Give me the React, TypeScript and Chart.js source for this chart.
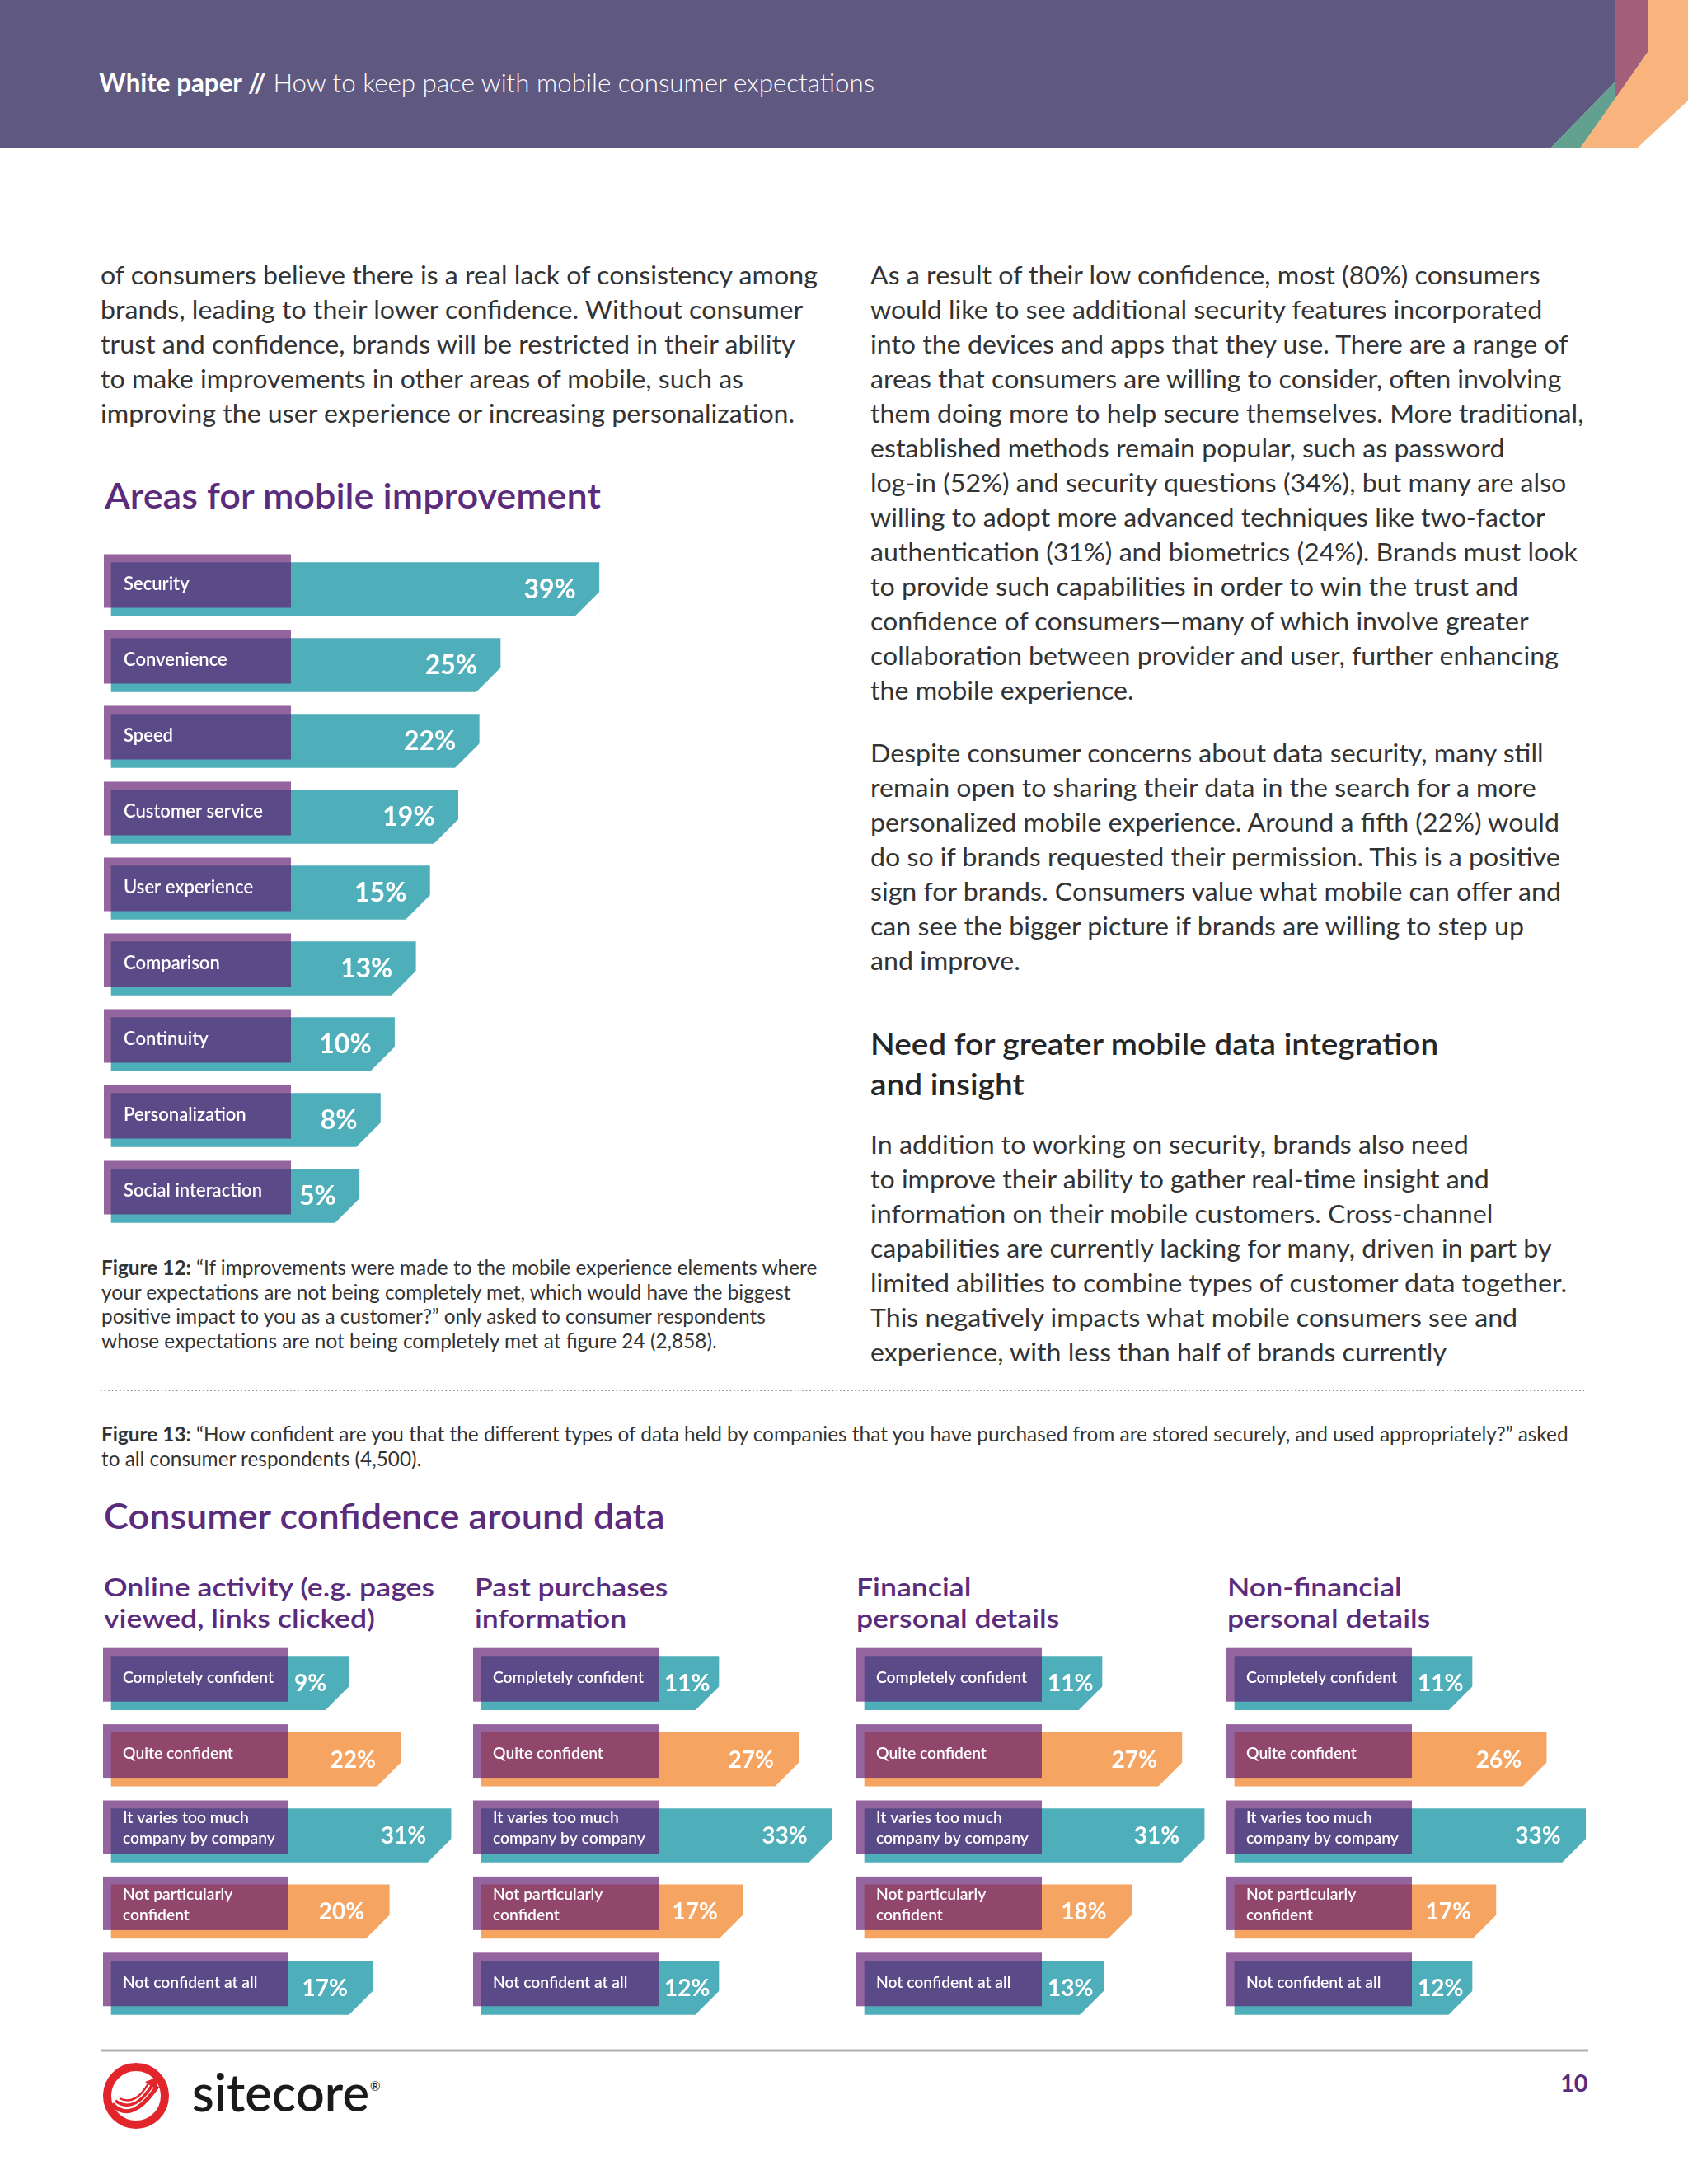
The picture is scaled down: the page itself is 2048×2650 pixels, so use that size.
import React, { useEffect, useRef } from "react";
import { Chart, registerables } from "chart.js";

Chart.register(...registerables);

// ---------------- data ----------------
const improvementCategories = [
  "Security",
  "Convenience",
  "Speed",
  "Customer service",
  "User experience",
  "Comparison",
  "Continuity",
  "Personalization",
  "Social interaction",
];
const improvementValues = [39, 25, 22, 19, 15, 13, 10, 8, 5];

const confidenceCategories = [
  ["Completely confident"],
  ["Quite confident"],
  ["It varies too much", "company by company"],
  ["Not particularly", "confident"],
  ["Not confident at all"],
];
const onlineActivityValues = [9, 22, 31, 20, 17];
const pastPurchasesValues = [11, 27, 33, 17, 12];
const financialValues = [11, 27, 31, 18, 13];
const nonFinancialValues = [11, 26, 33, 17, 12];

const confidenceTitles = [
  ["Online activity (e.g. pages", "viewed, links clicked)"],
  ["Past purchases", "information"],
  ["Financial", "personal details"],
  ["Non-financial", "personal details"],
];

// ---------------- page text ----------------
const headerBold = "White paper //";
const headerLight = " How to keep pace with mobile consumer expectations";

const leftLines = [
  "of consumers believe there is a real lack of consistency among",
  "brands, leading to their lower confidence. Without consumer",
  "trust and confidence, brands will be restricted in their ability",
  "to make improvements in other areas of mobile, such as",
  "improving the user experience or increasing personalization.",
];
const rightLines1 = [
  "As a result of their low confidence, most (80%) consumers",
  "would like to see additional security features incorporated",
  "into the devices and apps that they use. There are a range of",
  "areas that consumers are willing to consider, often involving",
  "them doing more to help secure themselves. More traditional,",
  "established methods remain popular, such as password",
  "log-in (52%) and security questions (34%), but many are also",
  "willing to adopt more advanced techniques like two-factor",
  "authentication (31%) and biometrics (24%). Brands must look",
  "to provide such capabilities in order to win the trust and",
  "confidence of consumers\u2014many of which involve greater",
  "collaboration between provider and user, further enhancing",
  "the mobile experience.",
];
const rightLines2 = [
  "Despite consumer concerns about data security, many still",
  "remain open to sharing their data in the search for a more",
  "personalized mobile experience. Around a fifth (22%) would",
  "do so if brands requested their permission. This is a positive",
  "sign for brands. Consumers value what mobile can offer and",
  "can see the bigger picture if brands are willing to step up",
  "and improve.",
];
const needHeading = ["Need for greater mobile data integration", "and insight"];
const rightLines3 = [
  "In addition to working on security, brands also need",
  "to improve their ability to gather real-time insight and",
  "information on their mobile customers. Cross-channel",
  "capabilities are currently lacking for many, driven in part by",
  "limited abilities to combine types of customer data together.",
  "This negatively impacts what mobile consumers see and",
  "experience, with less than half of brands currently",
];
const fig12Lead = "Figure 12:";
const fig12Lines = [
  " \u201CIf improvements were made to the mobile experience elements where",
  "your expectations are not being completely met, which would have the biggest",
  "positive impact to you as a customer?\u201D only asked to consumer respondents",
  "whose expectations are not being completely met at figure 24 (2,858).",
];
const fig13Lead = "Figure 13:";
const fig13Lines = [
  " \u201CHow confident are you that the different types of data held by companies that you have purchased from are stored securely, and used appropriately?\u201D asked",
  "to all consumer respondents (4,500).",
];

// ---------------- styles ----------------
const FONT = "Lato, 'Open Sans', 'DejaVu Sans', sans-serif";
const TEAL = "#4EAEB9";
const ORANGE = "#F5A461";
const OVERLAY = "rgba(98, 27, 113, 0.68)";
const PURPLE = "#5B2B7C";
const BODY = "#333333";

let measureCtx: CanvasRenderingContext2D | null = null;
function textWidth(t: string, weight: number, size: number): number {
  if (!measureCtx) measureCtx = document.createElement("canvas").getContext("2d");
  if (!measureCtx) return t.length * size * 0.5;
  measureCtx.font = `${weight} ${size}px ${FONT}`;
  return measureCtx.measureText(t).width;
}

type BarProps = {
  labels: (string | string[])[];
  values: number[];
  colors: string[];
  left: number;
  top: number;
  width: number;
  height: number;
  xMin: number;
  xMax: number;
  base: number;
  boxDx: number;
  boxWidth: number;
  labelSize: number;
  lineGap: number;
  valueSize: number;
  valueGap: number;
  chamfer: number;
  minBarLength?: number;
};

function OffsetBarChart(p: BarProps) {
  const ref = useRef<HTMLCanvasElement>(null);
  useEffect(() => {
    const canvas = ref.current;
    if (!canvas) return;
    const decor = {
      id: "decor",
      afterDatasetsDraw(chart: any) {
        const ctx: CanvasRenderingContext2D = chart.ctx;
        const meta = chart.getDatasetMeta(0);
        const labels = chart.data.labels as (string | string[])[];
        const data = chart.data.datasets[0].data as number[];
        meta.data.forEach((el: any, i: number) => {
          const { x, y, base, height } = el.getProps(["x", "y", "base", "height"], true);
          const top = y - height / 2;
          const bottom = y + height / 2;
          const c = p.chamfer;
          ctx.save();
          // cut the lower-right corner of the bar
          ctx.fillStyle = "#ffffff";
          ctx.beginPath();
          ctx.moveTo(x + 1, bottom - c - 1);
          ctx.lineTo(x + 1, bottom + 1);
          ctx.lineTo(x - c - 1, bottom + 1);
          ctx.closePath();
          ctx.fill();
          // label box
          const boxLeft = base - p.boxDx;
          const boxTop = top - 10;
          ctx.fillStyle = OVERLAY;
          ctx.fillRect(boxLeft, boxTop, p.boxWidth, height);
          // label text
          const lbl = labels[i];
          const lines = Array.isArray(lbl) ? lbl : [lbl];
          ctx.fillStyle = "#ffffff";
          ctx.font = `600 ${p.labelSize}px ${FONT}`;
          ctx.textBaseline = "middle";
          ctx.textAlign = "left";
          const bc = boxTop + height / 2 + (lines.length === 1 ? 3.5 : 1.5);
          lines.forEach((ln, j) => {
            ctx.fillText(ln, boxLeft + 24, bc + (j - (lines.length - 1) / 2) * p.lineGap);
          });
          // value text
          const vt = `${data[i]}%`;
          ctx.font = `700 ${p.valueSize}px ${FONT}`;
          const w = ctx.measureText(vt).width;
          const tx = Math.max(x - p.valueGap - w, boxLeft + p.boxWidth + 7);
          ctx.fillText(vt, tx, y + 1);
          ctx.restore();
        });
      },
    };
    const chart = new Chart(canvas, {
      type: "bar",
      data: {
        labels: p.labels as any,
        datasets: [
          {
            data: p.values,
            backgroundColor: p.colors,
            base: p.base,
            barThickness: 65,
            minBarLength: p.minBarLength,
            borderWidth: 0,
          } as any,
        ],
      },
      options: {
        indexAxis: "y",
        responsive: false,
        maintainAspectRatio: false,
        animation: false,
        devicePixelRatio: 1,
        events: [],
        layout: { padding: { top: 20, bottom: 20, left: 0, right: 0 } },
        scales: {
          x: { type: "linear", min: p.xMin, max: p.xMax, display: false },
          y: { type: "category", display: false },
        },
        plugins: { legend: { display: false }, tooltip: { enabled: false } },
      },
      plugins: [decor],
    });
    return () => chart.destroy();
  }, []);
  return (
    <canvas
      ref={ref}
      width={p.width}
      height={p.height}
      style={{ position: "absolute", left: p.left, top: p.top, width: p.width, height: p.height }}
    />
  );
}

export default function App() {
  useEffect(() => {
    document.body.style.margin = "0";
  }, []);

  // horizontal scale factors so the text lines occupy the reference widths
  const kBody = 872 / textWidth(leftLines[0], 400, 31);
  const kCap = 870 / (textWidth(fig12Lead, 700, 25) + textWidth(fig12Lines[0], 400, 25));
  const kHead = 944 / (textWidth(headerBold, 700, 32) + textWidth(headerLight, 300, 32));
  const kTitle = 603 / textWidth("Areas for mobile improvement", 600, 42);
  const kNeed = 691 / textWidth(needHeading[0], 600, 36);
  const kSub = 402 / textWidth(confidenceTitles[0][0], 600, 30);

  const T = (props: {
    x: number;
    y: number;
    k: number;
    size: number;
    weight: number;
    color: string;
    children: React.ReactNode;
  }) => (
    <text
      transform={`translate(${props.x} ${props.y}) scale(${props.k} 1)`}
      fontFamily={FONT}
      fontSize={props.size}
      fontWeight={props.weight}
      fill={props.color}
    >
      {props.children}
    </text>
  );

  // chart 1 scale: 0% at x=393, 8.56 px per percent
  const c1Left = 100;
  const c1Width = 700;
  const c1Slope = 8.56;
  const c1Zero = 393;
  const c1Min = -(c1Zero - c1Left) / c1Slope;
  const c1Max = c1Min + c1Width / c1Slope;

  // bottom charts: bar start at colBase, 0% at colBase + 201, 6.8 px per percent
  const bSlope = 6.8;
  const bBase = -29.6;
  const bPadLeft = 40;
  const bWidth = 480;
  const bMin = bBase - bPadLeft / bSlope;
  const bMax = bMin + bWidth / bSlope;
  const colStarts = [135, 584, 1049, 1498];
  const colTitleX = [126, 576, 1039, 1489];
  const colValues = [onlineActivityValues, pastPurchasesValues, financialValues, nonFinancialValues];
  const rowColors = [TEAL, ORANGE, TEAL, ORANGE, TEAL];

  return (
    <div
      style={{
        position: "absolute",
        left: 0,
        top: 0,
        width: 2048,
        height: 2650,
        background: "#ffffff",
        overflow: "hidden",
      }}
    >
      <svg width={2048} height={2650} style={{ position: "absolute", left: 0, top: 0 }}>
        {/* header band */}
        <polygon points="0,0 1959,0 1959,100 1881,180 0,180" fill="#5F5880" />
        <polygon points="1959,100 1959,121 1917,180 1881,180" fill="#62A08F" />
        <polygon points="1959,0 2000,0 2000,62 1959,121" fill="#A3607A" />
        <polygon points="2000,0 2048,0 2048,122 1986,180 1917,180 2000,62" fill="#F8B47C" />
        <T x={120} y={112} k={kHead} size={32} weight={300} color="#ffffff">
          <tspan fontWeight={700}>{headerBold}</tspan>
          <tspan>{headerLight}</tspan>
        </T>

        {/* left column text */}
        {leftLines.map((t, i) => (
          <T key={"l" + i} x={122} y={345 + 42 * i} k={kBody} size={31} weight={400} color={BODY}>
            {t}
          </T>
        ))}
        {/* right column text */}
        {rightLines1.map((t, i) => (
          <T key={"r1" + i} x={1056} y={345 + 42 * i} k={kBody} size={31} weight={400} color={BODY}>
            {t}
          </T>
        ))}
        {rightLines2.map((t, i) => (
          <T key={"r2" + i} x={1056} y={925 + 42 * i} k={kBody} size={31} weight={400} color={BODY}>
            {t}
          </T>
        ))}
        {needHeading.map((t, i) => (
          <T key={"nh" + i} x={1056} y={1280 + 49 * i} k={kNeed} size={36} weight={600} color="#262626">
            {t}
          </T>
        ))}
        {rightLines3.map((t, i) => (
          <T key={"r3" + i} x={1056} y={1400 + 42 * i} k={kBody} size={31} weight={400} color={BODY}>
            {t}
          </T>
        ))}

        {/* titles */}
        <T x={127} y={617} k={kTitle} size={42} weight={600} color={PURPLE}>
          Areas for mobile improvement
        </T>
        <T x={126} y={1855} k={kTitle} size={42} weight={600} color={PURPLE}>
          Consumer confidence around data
        </T>

        {/* figure 12 caption */}
        {fig12Lines.map((t, i) => (
          <T key={"f12" + i} x={123} y={1547 + 29.5 * i} k={kCap} size={25} weight={400} color="#333333">
            {i === 0 ? <tspan fontWeight={700}>{fig12Lead}</tspan> : null}
            <tspan>{t}</tspan>
          </T>
        ))}
        <line x1={122} y1={1687} x2={1926} y2={1687} stroke="#8a8a8a" strokeWidth={2} strokeDasharray="1.6 3" />
        {fig13Lines.map((t, i) => (
          <T key={"f13" + i} x={123} y={1749 + 30 * i} k={kCap} size={25} weight={400} color="#333333">
            {i === 0 ? <tspan fontWeight={700}>{fig13Lead}</tspan> : null}
            <tspan>{t}</tspan>
          </T>
        ))}

        {/* column titles */}
        {confidenceTitles.map((lines, c) =>
          lines.map((t, j) => (
            <T key={"ct" + c + j} x={colTitleX[c]} y={1937 + 38 * j} k={kSub} size={30} weight={600} color={PURPLE}>
              {t}
            </T>
          ))
        )}

        {/* footer */}
        <line x1={122} y1={2488} x2={1927} y2={2488} stroke="#b0b0b4" strokeWidth={3} />
        <circle cx={165} cy={2543} r={35} fill="none" stroke="#E2252B" strokeWidth={10} />
        <path d="M 136 2553 Q 160 2578 191 2531" stroke="#E2252B" strokeWidth={5} fill="none" />
        <path d="M 140 2549 Q 163 2566 186 2528" stroke="#E2252B" strokeWidth={3.5} fill="none" />
        <path d="M 145 2546 Q 165 2556 181 2526" stroke="#E2252B" strokeWidth={2.5} fill="none" />
        <polygon points="176,2526 189,2521 192,2535 184,2532" fill="#E2252B" />
        <text x={233} y={2562} fontFamily={FONT} fontSize={64} fontWeight={600} fill="#1b1b1b" textLength={215} lengthAdjust="spacingAndGlyphs">
          sitecore
        </text>
        <text x={449} y={2537} fontFamily={FONT} fontSize={15} fontWeight={400} fill="#1b1b1b">
          ®
        </text>
        <text x={1893} y={2538} fontFamily={FONT} fontSize={29} fontWeight={700} fill={PURPLE}>
          10
        </text>
      </svg>

      <OffsetBarChart
        labels={improvementCategories}
        values={improvementValues}
        colors={improvementValues.map(() => TEAL)}
        left={c1Left}
        top={649}
        width={c1Width}
        height={868}
        xMin={c1Min}
        xMax={c1Max}
        base={-30.14}
        boxDx={9}
        boxWidth={227}
        labelSize={22}
        lineGap={25}
        valueSize={32}
        valueGap={28}
        chamfer={29}
      />

      {colValues.map((vals, c) => (
        <OffsetBarChart
          key={"col" + c}
          labels={confidenceCategories}
          values={vals}
          colors={rowColors}
          left={colStarts[c] - bPadLeft}
          top={1976}
          width={bWidth}
          height={502}
          xMin={bMin}
          xMax={bMax}
          base={bBase}
          boxDx={10}
          boxWidth={225}
          labelSize={19.3}
          lineGap={25}
          valueSize={28}
          valueGap={30}
          chamfer={28}
          minBarLength={288}
        />
      ))}
    </div>
  );
}
